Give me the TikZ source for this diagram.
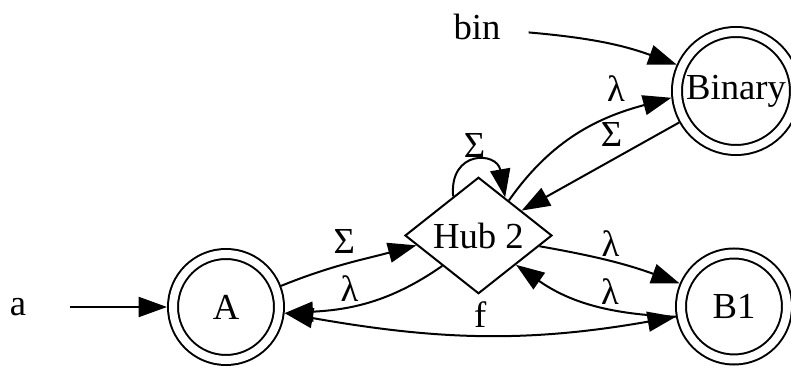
\documentclass[tikz,border=0pt]{standalone}
\usepackage{fontspec}
\setmainfont{Liberation Serif}
\usetikzlibrary{arrows.meta,shapes.geometric}
\tikzset{
	state/.style   = {circle, draw, double, double distance=2.4pt, line width=0.6pt,
		inner sep=0pt, outer sep=1.8pt, minimum size=#1},
	state/.default = 31.8pt,
	hub/.style     = {diamond, draw, line width=0.6pt, inner sep=0pt, outer sep=0.3pt,
		minimum width=44.1pt, minimum height=29.1pt},
	plain/.style   = {inner sep=0pt, minimum width=30.6pt, minimum height=10pt},
	ar/.style      = {-{Triangle[length=8.5pt, width=6pt]}, line width=0.6pt},
	arr/.style     = {{Triangle[length=8.5pt, width=6pt]}-{Triangle[length=8.5pt, width=6pt]}, line width=0.6pt},
	lb/.style      = {inner sep=1pt},
}

\begin{document}
\begin{tikzpicture}[x=0.3pt, y=0.3pt, font=\fontsize{11}{13}\selectfont]
	\useasboundingbox (0,0) rectangle (791,367);
	
	%% states ─────────────────────────────────────────────────────────
	\node[state]        (A)      at (226,  60)    {A};
	\node[hub]          (Hub)    at (478.5,131.5) {Hub 2};
	\node[state=35.4pt] (Binary) at (736, 276)    {Binary};
	\node[state]        (B1)     at (734,  60.5)  {B1};
	
	%% entry labels ───────────────────────────────────────────────────
	\node[plain] (a)   at (18,  60)  {a};
	\node[plain] (bin) at (477, 340) {bin};
	
	%% transitions ────────────────────────────────────────────────────
	\draw[ar] (a) -- (A);
	\draw[ar] (bin.-6) to[out=-5, in=160] (Binary.156);
	
	\draw[ar] (A.21) to[out=22, in=195]
	node[lb, above=2pt, pos=0.47]{Σ} (Hub.189);
	\draw[ar] (Hub.220) to[out=215, in=3]
	node[lb, above, pos=0.62]{λ} (A.-6);
	\draw[arr] (A.-6) to[out=-10, in=190]
	node[lb, above=1pt, pos=0.5]{f} (B1.190);
	
	\draw[ar] (Hub.-10) to[out=-10, in=160]
	node[lb, above, pos=0.5]{λ} (B1.157);
	\draw[ar] (B1.190) to[out=178, in=-35]
	node[lb, above, pos=0.38]{λ} (Hub.-38);
	
	\draw[ar] (Hub.49) to[out=55, in=195]
	node[lb, above=3pt, pos=0.72]{λ} (Binary.186);
	\draw[ar] (Binary.209) --
	node[lb, above=3pt, pos=0.43]{Σ} (Hub.30);
	
	%% self loop on the hub
	\draw[ar] (Hub.123) to[out=95, in=100, looseness=2.3]
	node[lb, above]{Σ} (Hub.55);
	
\end{tikzpicture}
\end{document}
